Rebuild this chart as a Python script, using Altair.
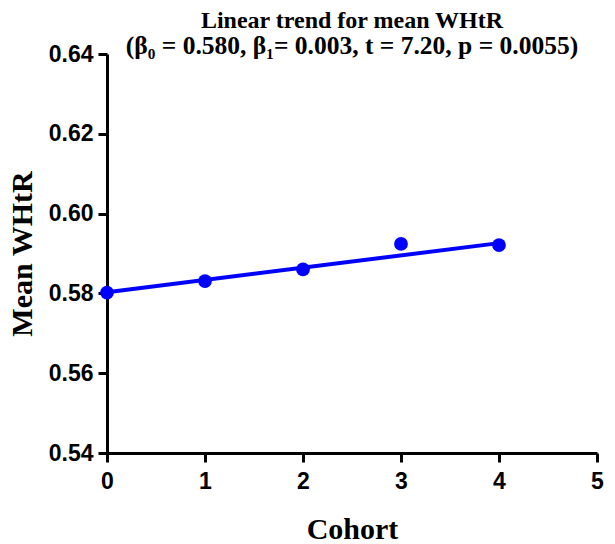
import altair as alt
import pandas as pd

# Data
cohort = [0, 1, 2, 3, 4]
mean_whtr = [0.5802, 0.5831, 0.5860, 0.5924, 0.5921]

# Fitted linear trend (endpoints)
fit_x = [0, 4]
fit_y = [0.5803, 0.5926]

x_ticks = [0, 1, 2, 3, 4, 5]
y_ticks = [0.54, 0.56, 0.58, 0.60, 0.62, 0.64]

title_text = "Linear trend for mean WHtR"
subtitle_text = "(β₀ = 0.580, β₁= 0.003, t = 7.20, p = 0.0055)"

pts = pd.DataFrame({"Cohort": cohort, "Mean WHtR": mean_whtr})
fit = pd.DataFrame({"Cohort": fit_x, "Mean WHtR": fit_y})

BLUE = "#0000FF"
LABEL_FONT = "Liberation Sans Narrow, Liberation Sans, Arial"
SERIF = "Liberation Serif, Times New Roman, serif"

x_enc = alt.X("Cohort:Q",
              scale=alt.Scale(domain=[0, 5], nice=False, zero=False),
              axis=alt.Axis(values=x_ticks, format="d", title="Cohort",
                            titleX=245, titleY=85, titleAlign="center",
                            titleBaseline="alphabetic", labelPadding=8,
                            labelFlush=False))
y_enc = alt.Y("Mean WHtR:Q",
              scale=alt.Scale(domain=[0.54, 0.64], nice=False, zero=False),
              axis=alt.Axis(values=y_ticks, format=".2f", title="Mean WHtR",
                            titleX=-85, titleY=199.5, titleAlign="center",
                            titleBaseline="middle", titleAngle=-90,
                            labelPadding=5, labelFlush=False))

line = alt.Chart(fit).mark_line(color=BLUE, strokeWidth=4).encode(x=x_enc, y=y_enc)
points = alt.Chart(pts).mark_circle(color=BLUE, opacity=1, size=190).encode(
    x="Cohort:Q", y="Mean WHtR:Q")

chart = (line + points).properties(
    width=490, height=399,
    background="white",
    autosize=alt.AutoSizeParams(type="none"),
    padding={"left": 107, "top": 54, "right": 18, "bottom": 91},
    title=alt.TitleParams(title_text, subtitle=subtitle_text,
                          font=SERIF, fontSize=24, fontWeight="bold", color="black",
                          subtitleFont=SERIF, subtitleFontSize=25.5,
                          subtitleFontWeight="bold", subtitleColor="black",
                          subtitlePadding=1,
                          anchor="middle", offset=4, dy=20),
).configure_view(stroke=None).configure_axis(
    grid=False,
    domainColor="black", domainWidth=3,
    tickColor="black", tickWidth=3, tickSize=9,
    labelFont=LABEL_FONT, labelFontSize=23, labelFontWeight="bold", labelColor="black",
    titleFont=SERIF, titleFontSize=30, titleFontWeight="bold", titleColor="black",
)

chart.save("out.html", embed_options={"renderer": "svg", "actions": False})
